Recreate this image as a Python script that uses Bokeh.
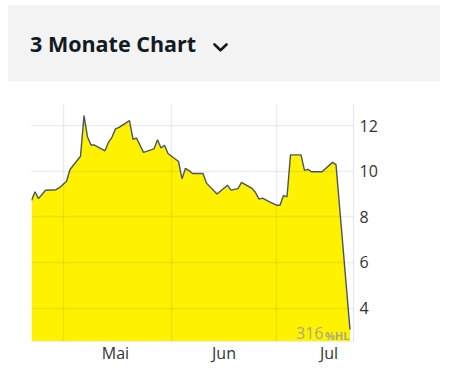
import pandas as pd
from bokeh.plotting import figure
from bokeh.models import Div, FixedTicker, Label, Range1d
from bokeh.layouts import column
from bokeh.embed import file_html
from bokeh.resources import INLINE

# ---- data ----
dates = ["2024-04-22", "2024-04-23", "2024-04-24", "2024-04-26", "2024-04-29", "2024-04-30",
         "2024-05-02", "2024-05-03", "2024-05-06", "2024-05-07", "2024-05-08", "2024-05-09",
         "2024-05-10", "2024-05-13", "2024-05-14", "2024-05-15", "2024-05-16", "2024-05-17",
         "2024-05-20", "2024-05-21", "2024-05-22", "2024-05-24", "2024-05-27", "2024-05-28",
         "2024-05-29", "2024-05-30", "2024-05-31", "2024-06-03", "2024-06-04", "2024-06-05",
         "2024-06-06", "2024-06-07", "2024-06-10", "2024-06-11", "2024-06-14", "2024-06-17",
         "2024-06-18", "2024-06-20", "2024-06-21", "2024-06-24", "2024-06-25", "2024-06-26",
         "2024-06-27", "2024-06-29", "2024-07-01", "2024-07-02", "2024-07-03", "2024-07-04",
         "2024-07-05", "2024-07-08", "2024-07-09", "2024-07-10", "2024-07-11", "2024-07-14",
         "2024-07-17", "2024-07-18", "2024-07-22"]
prices = [8.72, 9.10, 8.80, 9.17, 9.19, 9.28,
          9.56, 10.08, 10.66, 12.44, 11.50, 11.15,
          11.15, 10.90, 11.27, 11.50, 11.86, 11.93,
          12.22, 11.40, 11.46, 10.83, 10.98, 11.38,
          11.02, 11.14, 10.78, 10.43, 9.67, 10.13,
          10.03, 9.90, 9.90, 9.48, 9.00, 9.39,
          9.17, 9.24, 9.51, 9.25, 9.07, 8.78,
          8.82, 8.66, 8.51, 8.51, 8.94, 8.88,
          10.72, 10.72, 10.04, 10.08, 9.98, 9.98,
          10.39, 10.29, 3.05]

x_start, x_end = "2024-04-22", "2024-07-23"
y_min, y_max = 2.53, 12.93
month_starts = ["2024-05-01", "2024-06-01", "2024-07-01"]
month_mids = ["2024-05-16", "2024-06-16", "2024-07-16"]
month_labels = ["Mai", "Jun", "Jul"]
y_ticks = [4, 6, 8, 10, 12]
watermark_num = "316"
watermark_txt = "%HL"
title_text = "3 Monate Chart"


def ms(d):
    return pd.Timestamp(d).value / 1e6


x = pd.to_datetime(dates)

p = figure(width=432, height=290, x_axis_type="datetime", y_axis_location="right",
           x_range=Range1d(ms(x_start), ms(x_end)), y_range=Range1d(y_min, y_max),
           output_backend="svg", toolbar_location=None,
           min_border_left=31, min_border_top=23, min_border_right=79, min_border_bottom=30)
p.outline_line_color = None
p.background_fill_color = "white"
p.border_fill_color = "white"

p.varea(x=x, y1=0, y2=prices, fill_color="#fff200")
p.line(x=x, y=prices, line_color="#4a5561", line_width=1.4)

# axes
p.yaxis.ticker = FixedTicker(ticks=y_ticks)
p.yaxis.axis_line_color = "#e6e6e6"
p.yaxis.major_tick_line_color = None
p.yaxis.minor_tick_line_color = None
p.yaxis.major_label_text_font = "Open Sans"
p.yaxis.major_label_text_font_size = "16px"
p.yaxis.major_label_text_color = "#333333"
p.yaxis.major_label_standoff = 0

mid_ticks = [int(ms(d)) for d in month_mids]
p.xaxis.ticker = FixedTicker(ticks=mid_ticks)
p.xaxis.major_label_overrides = {t: lab for t, lab in zip(mid_ticks, month_labels)}
p.xaxis.axis_line_color = "#eeeeee"
p.xaxis.major_tick_line_color = None
p.xaxis.minor_tick_line_color = None
p.xaxis.major_label_text_font = "Open Sans"
p.xaxis.major_label_text_font_size = "16px"
p.xaxis.major_label_text_color = "#333333"
p.xaxis.major_label_standoff = -6

# grid
p.xgrid.ticker = FixedTicker(ticks=[ms(d) for d in month_starts])
p.ygrid.ticker = FixedTicker(ticks=y_ticks)
for g in (p.xgrid, p.ygrid):
    g.grid_line_color = "black"
    g.grid_line_alpha = 0.07
    g.grid_line_width = 1.5
    g.level = "overlay"

# watermark
p.add_layout(Label(x=ms(x_end), y=y_min, text=watermark_txt, text_align="right",
                   text_baseline="bottom", x_offset=-4, y_offset=-1,
                   text_font="Open Sans", text_font_style="bold", text_font_size="11px",
                   text_color="#9a9a9a", text_alpha=0.85))
p.add_layout(Label(x=ms(x_end), y=y_min, text=watermark_num, text_align="right",
                   text_baseline="bottom", x_offset=-30, y_offset=3,
                   text_font="Open Sans", text_font_size="16px",
                   text_color="#9a9a9a", text_alpha=0.85))

chevron = ('<svg width="15" height="9" viewBox="0 0 15 9" style="margin-left:17px">'
           '<polyline points="1.5,1.5 7.5,7.3 13.5,1.5" fill="none" stroke="#111b24" '
           'stroke-width="2.6" stroke-linecap="round" stroke-linejoin="round"/></svg>')
header = Div(text=f'<span>{title_text}</span>{chevron}', width=432, height=76,
             margin=(5, 0, 0, 8),
             styles={"background-color": "#f3f3f3", "font-family": "Open Sans",
                     "font-weight": "bold", "font-size": "21.5px", "color": "#111b24",
                     "padding-left": "22px", "padding-top": "2px", "box-sizing": "border-box",
                     "display": "flex", "align-items": "center"})

layout = column(header, p, spacing=0)
open("out.html", "w").write(file_html(layout, INLINE))
